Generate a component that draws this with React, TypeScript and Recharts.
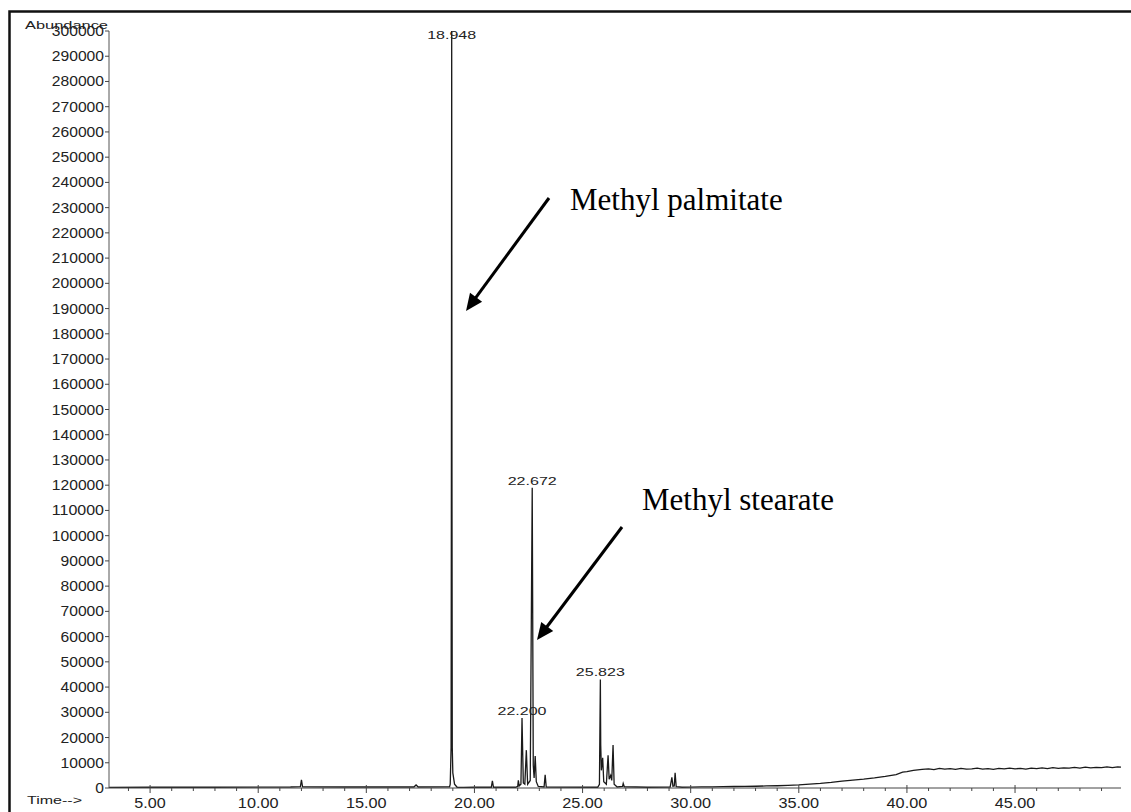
import React from "react";
import { LineChart, Line, XAxis, YAxis, ReferenceDot } from "recharts";

// chromatogram trace, [retention time (min), abundance]
const earlyBaseline: [number, number][] = [
  [3.1, 200], [5.0, 300], [8.0, 300], [11.5, 400], [11.95, 500], [12.0, 3200],
  [12.05, 500], [14.0, 400], [17.2, 400], [17.3, 1200], [17.4, 400], [18.85, 500],
];

const palmitatePeak: [number, number][] = [
  [18.88, 1500], [18.92, 16000], [18.935, 130000], [18.948, 300000], [18.96, 130000],
  [18.975, 16000], [19.0, 6000], [19.08, 1500], [19.2, 300],
];

const midBaseline: [number, number][] = [
  [19.5, 200], [20.0, 300], [20.78, 300], [20.83, 2800], [20.88, 300], [21.9, 300],
];

const stearateCluster: [number, number][] = [
  [22.0, 600], [22.03, 3000], [22.07, 800], [22.15, 1500], [22.2, 27700], [22.26, 2000],
  [22.33, 1500], [22.4, 15000], [22.46, 1500], [22.58, 3000], [22.672, 119000],
  [22.72, 9000], [22.76, 4000], [22.81, 12700], [22.86, 2500], [22.95, 600],
  [23.22, 400], [23.27, 5200], [23.32, 400],
];

const lateCluster: [number, number][] = [
  [25.7, 300], [25.78, 1500], [25.823, 43000], [25.84, 17000], [25.87, 7000],
  [25.93, 12000], [25.98, 2500], [26.1, 1500], [26.18, 13000], [26.23, 3500],
  [26.3, 5000], [26.35, 3000], [26.41, 17000], [26.46, 1500], [26.6, 400],
  [26.85, 600], [26.88, 1800], [26.93, 500], [28.0, 300], [29.05, 400],
  [29.13, 4200], [29.18, 700], [29.24, 800], [29.28, 6000], [29.33, 500], [29.6, 300],
];

const baselineRise: [number, number][] = [
  [30.0, 350], [30.5, 420], [31.0, 450], [31.5, 560], [32.0, 600], [32.5, 640],
  [33.0, 700], [33.5, 820], [34.0, 900], [34.5, 1050], [35.0, 1200], [35.5, 1500],
  [36.0, 1800], [36.5, 2200], [37.0, 2700], [37.5, 3100], [38.0, 3500], [38.5, 4000],
  [39.0, 4600], [39.5, 5300], [39.8, 6300], [40.0, 6500], [40.3, 7000], [40.7, 7400],
  [41.0, 7600], [41.25, 7300], [41.5, 7800], [41.75, 7500], [42.0, 7700], [42.25, 7400],
  [42.5, 7800], [42.75, 7500], [43.0, 7600], [43.25, 7900], [43.5, 7500], [43.75, 7700],
  [44.0, 7400], [44.25, 7800], [44.5, 7600], [44.75, 7900], [45.0, 7600], [45.25, 7800],
  [45.5, 7500], [45.75, 7900], [46.0, 7700], [46.25, 8000], [46.5, 7700], [46.75, 8100],
  [47.0, 7800], [47.25, 8000], [47.5, 7900], [47.75, 8200], [48.0, 7900], [48.25, 8300],
  [48.5, 8000], [48.75, 8200], [49.0, 8100], [49.25, 8400], [49.5, 8100], [49.75, 8400],
  [49.9, 8300],
];

const trace = [
  ...earlyBaseline,
  ...palmitatePeak,
  ...midBaseline,
  ...stearateCluster,
  ...lateCluster,
  ...baselineRise,
].map(([t, v]) => ({ t, v }));

const peakTimes = [18.948, 22.2, 22.672, 25.823];
const peakHeights = [300000, 27700, 119000, 43000];
const peakTexts = ["18.948", "22.200", "22.672", "25.823"];

const yTicks = Array.from({ length: 31 }, (_, i) => i * 10000);
const xTicks = Array.from({ length: 46 }, (_, i) => i + 4);

const SANS = "'Liberation Sans', Arial, Helvetica, sans-serif";
const SERIF = "'Liberation Serif', 'Times New Roman', serif";

const YTick = (props: any) => {
  const { x, y, payload } = props;
  const label = String(payload.value);
  return (
    <g>
      <line x1={x - 4} y1={y} x2={x} y2={y} stroke="#444" strokeWidth={1} />
      <text
        x={x - 5}
        y={y + 5}
        textAnchor="end"
        fontFamily={SANS}
        fontSize={14}
        fill="#222"
        textLength={label.length * 8.7}
        lengthAdjust="spacingAndGlyphs"
      >
        {label}
      </text>
    </g>
  );
};

const XTick = (props: any) => {
  const { x, y, payload } = props;
  const major = payload.value % 5 === 0;
  const label = payload.value.toFixed(2);
  return (
    <g>
      <line
        x1={x}
        y1={major ? y - 3 : y}
        x2={x}
        y2={major ? y + 5 : y + 3}
        stroke="#444"
        strokeWidth={1}
      />
      {major && (
        <text
          x={x}
          y={y + 20}
          textAnchor="middle"
          fontFamily={SANS}
          fontSize={14}
          fill="#222"
          textLength={(label.length - 1) * 9.3 + 3.5}
          lengthAdjust="spacingAndGlyphs"
        >
          {label}
        </text>
      )}
    </g>
  );
};

const arrow = (x1: number, y1: number, x2: number, y2: number) => {
  const dx = x2 - x1;
  const dy = y2 - y1;
  const len = Math.hypot(dx, dy);
  const ux = dx / len;
  const uy = dy / len;
  const bx = x2 - ux * 17;
  const by = y2 - uy * 17;
  const px = -uy * 7.5;
  const py = ux * 7.5;
  return (
    <g>
      <line x1={x1} y1={y1} x2={bx + ux * 2} y2={by + uy * 2} stroke="#000" strokeWidth={3} />
      <polygon
        points={`${x2},${y2} ${bx + px},${by + py} ${bx - px},${by - py}`}
        fill="#000"
      />
    </g>
  );
};

export default function App() {
  return (
    <div
      style={{
        position: "absolute",
        left: 0,
        top: 0,
        width: 1131,
        height: 812,
        background: "#fff",
      }}
    >
      <LineChart
        width={1131}
        height={812}
        data={trace}
        margin={{ top: 31, right: 10, left: 0, bottom: 0 }}
      >
        <XAxis
          type="number"
          dataKey="t"
          domain={[3.1, 49.9]}
          ticks={xTicks}
          interval={0}
          height={24}
          tickSize={0}
          tickMargin={0}
          tickLine={false}
          axisLine={{ stroke: "#444", strokeWidth: 1 }}
          tick={<XTick />}
          allowDataOverflow
        />
        <YAxis
          type="number"
          domain={[0, 300000]}
          ticks={yTicks}
          interval={0}
          width={109}
          tickSize={0}
          tickMargin={0}
          tickLine={false}
          axisLine={{ stroke: "#555", strokeWidth: 1 }}
          tick={<YTick />}
          allowDataOverflow
        />
        <Line
          type="linear"
          dataKey="v"
          stroke="#1a1a1a"
          strokeWidth={1.3}
          dot={false}
          isAnimationActive={false}
        />
        {peakTimes.map((t, i) => (
          <ReferenceDot
            key={peakTexts[i]}
            x={t}
            y={peakHeights[i]}
            r={0}
            ifOverflow="visible"
            shape={(p: any) => (
              <text
                x={p.cx}
                y={Math.max(p.cy - 7, 35) + 4}
                textAnchor="middle"
                fontFamily={SANS}
                fontSize={11}
                fill="#222"
                textLength={49}
                lengthAdjust="spacingAndGlyphs"
              >
                {peakTexts[i]}
              </text>
            )}
          />
        ))}
      </LineChart>
      <svg
        width={1131}
        height={812}
        style={{ position: "absolute", left: 0, top: 0, pointerEvents: "none" }}
      >
        <rect x={9.5} y={11.5} width={1200} height={1000} fill="none" stroke="#111" strokeWidth={2.5} />
        <text
          x={25}
          y={29}
          fontFamily={SANS}
          fontSize={11}
          fill="#222"
          textLength={83}
          lengthAdjust="spacingAndGlyphs"
        >
          Abundance
        </text>
        <text
          x={27}
          y={804}
          fontFamily={SANS}
          fontSize={11.5}
          fill="#222"
          textLength={55}
          lengthAdjust="spacingAndGlyphs"
        >
          Time--&gt;
        </text>
        {arrow(549, 198, 466, 311)}
        {arrow(622, 527, 537, 640)}
        <text x={570} y={210} fontFamily={SERIF} fontSize={31} fill="#000">
          Methyl palmitate
        </text>
        <text x={642} y={510} fontFamily={SERIF} fontSize={31} fill="#000">
          Methyl stearate
        </text>
      </svg>
    </div>
  );
}
